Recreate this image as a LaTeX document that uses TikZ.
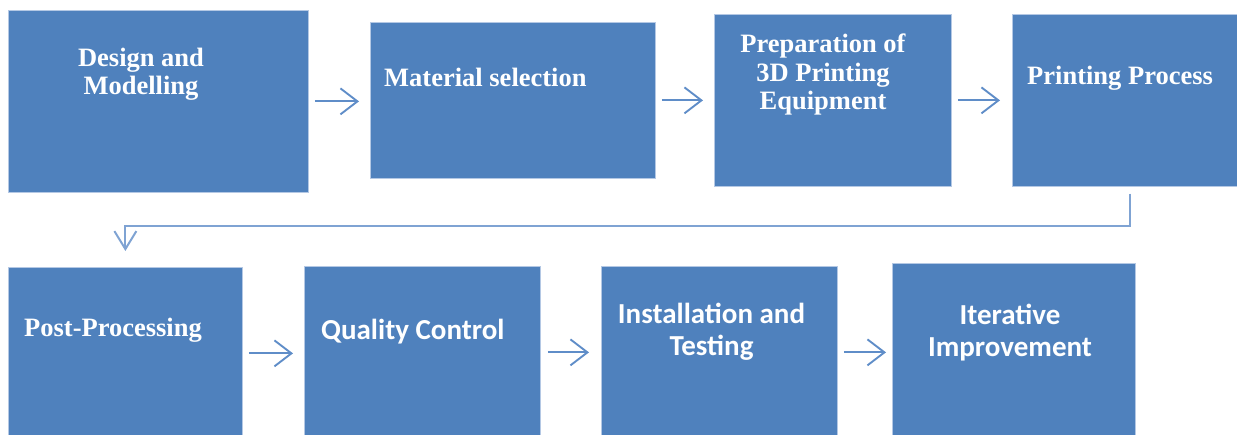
\documentclass[tikz,border=0pt]{standalone}
\usepackage{fontspec}
\setmainfont{Liberation Serif}
\newfontfamily\calib{Carlito}
\usetikzlibrary{arrows.meta}

\definecolor{boxfill}{HTML}{4F81BD}
\definecolor{boxline}{HTML}{B4C8E4}
\definecolor{arrowcol}{HTML}{5F8DC8}
\definecolor{conncol}{HTML}{7FA3D3}

\tikzset{
  stepbox/.style={rectangle, fill=boxfill, draw=boxline, line width=0.75pt,
    inner sep=0pt, anchor=north west},
  serif/.style={text=white, inner sep=0pt, align=center,
    font=\fontsize{26.5}{28.5}\selectfont\bfseries},
  sans/.style={text=white, inner sep=0pt, align=center,
    font=\fontsize{29}{32.5}\selectfont\calib\bfseries},
  flow/.style={draw=arrowcol, line width=1.9pt,
    -{Straight Barb[length=17pt,width=26pt]}},
  link/.style={draw=conncol, line width=2pt,
    -{Straight Barb[length=18pt,width=22pt]}}
}

\begin{document}
\begin{tikzpicture}[x=1pt, y=-1pt]
  \useasboundingbox (0,0) rectangle (1237,435);
  \clip (0,0) rectangle (1237,435);

  % first row of steps
  \node[stepbox, minimum width=300pt, minimum height=182pt] (b1) at (8,10) {};
  \node[stepbox, minimum width=285pt, minimum height=156pt] (b2) at (370,22) {};
  \node[stepbox, minimum width=237pt, minimum height=172pt] (b3) at (714,14) {};
  \node[stepbox, minimum width=230pt, minimum height=172pt] (b4) at (1012,14) {};

  % second row of steps
  \node[stepbox, minimum width=234pt, minimum height=172pt] (b5) at (8,267) {};
  \node[stepbox, minimum width=236pt, minimum height=172pt] (b6) at (304,266) {};
  \node[stepbox, minimum width=236pt, minimum height=172pt] (b7) at (601,266) {};
  \node[stepbox, minimum width=243pt, minimum height=176pt] (b8) at (892,263) {};

  % labels (multi-line labels are placed by the baseline of their last line)
  \node[serif, anchor=base] (t1) at (141,95) {Design and\\Modelling};
  \node[serif, anchor=base west] (t2) at (384,87) {Material selection};
  \node[serif, anchor=base] (t3) at (823,110) {Preparation of\\3D Printing\\Equipment};
  \node[serif, anchor=base west] (t4) at (1027,85) {Printing Process};
  \node[serif, anchor=base west] (t5) at (24,337) {Post-Processing};
  \node[sans, anchor=base west] (t6) at (321,340) {Quality Control};
  \node[sans, anchor=base] (t7) at (711.5,356) {Installation and\\Testing};
  \node[sans, anchor=base] (t8) at (1010,357) {Iterative\\Improvement};

  % arrows between steps
  \draw[flow, shorten <=6pt, shorten >=11pt] (b1.east) -- (b1.east -| b2.west);
  \draw[flow, shorten <=6pt, shorten >=11pt] (b2.east) -- (b2.east -| b3.west);
  \draw[flow, shorten <=6pt, shorten >=12pt] (b3.east) -- (b3.east -| b4.west);
  \draw[flow, shorten <=6pt, shorten >=11pt] (b5.east) -- (b5.east -| b6.west);
  \draw[flow, shorten <=7pt, shorten >=12pt] (b6.east) -- (b6.east -| b7.west);
  \draw[flow, shorten <=6pt, shorten >=6pt]  (b7.east) -- (b7.east -| b8.west);

  % return from the end of the first row to the second row
  \draw[link, shorten <=7pt, shorten >=16pt]
    ([xshift=3pt]b4.south) -- ++(0,39) -| (b5.north);
\end{tikzpicture}
\end{document}
